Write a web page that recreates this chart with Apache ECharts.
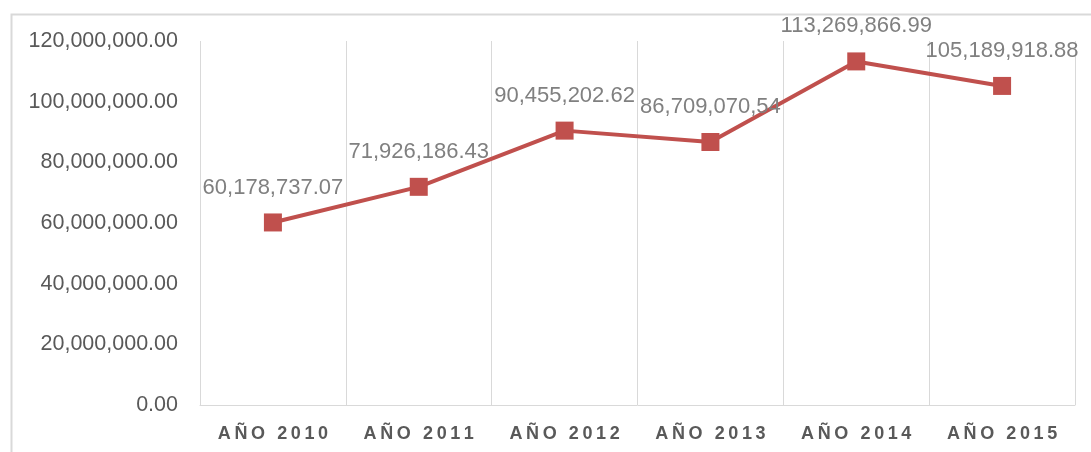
<!DOCTYPE html>
<html>
<head>
<meta charset="utf-8">
<script src="https://cdn.jsdelivr.net/npm/echarts@6/dist/echarts.min.js"></script>
<style>
html, body { margin: 0; padding: 0; background: #fff; }
#chart { width: 1091px; height: 452px; }
</style>
</head>
<body>
<div id="chart"></div>
<script>
// datos
var years = ['AÑO 2010', 'AÑO 2011', 'AÑO 2012', 'AÑO 2013', 'AÑO 2014', 'AÑO 2015'];
var amounts = [60178737.07, 71926186.43, 90455202.62, 86709070.54, 113269866.99, 105189918.88];
var amountLabels = ['60,178,737.07', '71,926,186.43', '90,455,202.62', '86,709,070,54', '113,269,866.99', '105,189,918.88'];

function spaced(s) {
	// simula el espaciado entre letras
	return s.split('').join('\u2009');
}

function money(v) {
	return v.toLocaleString('en-US', {minimumFractionDigits: 2, maximumFractionDigits: 2});
}

var myChart = echarts.init(document.getElementById('chart'));

var option = {
	animation: false,
	textStyle: { fontFamily: 'Liberation Sans' },
	graphic: [{
		type: 'rect',
		left: 9, top: 12,
		shape: { width: 1100, height: 460 },
		style: { fill: 'none', stroke: '#d9d9d9', lineWidth: 2 },
		silent: true
	}],
	grid: { left: 200, right: 16, top: 41, bottom: 47 },
	xAxis: {
		type: 'category',
		data: years,
		boundaryGap: true,
		axisLine: { lineStyle: { color: '#d9d9d9', width: 1 } },
		axisTick: { show: false },
		splitLine: { show: true, interval: 0, lineStyle: { color: '#d9d9d9', width: 1 } },
		axisLabel: {
			interval: 0,
			margin: 20,
			color: '#595959',
			fontSize: 18,
			fontWeight: 'bold',
			formatter: spaced
		}
	},
	yAxis: {
		type: 'value',
		min: 0,
		max: 120000000,
		interval: 20000000,
		axisLine: { show: false },
		axisTick: { show: false },
		splitLine: { show: false },
		axisLabel: {
			margin: 22,
			color: '#595959',
			fontSize: 21.5,
			formatter: money
		}
	},
	series: [{
		name: 'Monto',
		type: 'line',
		data: amounts,
		symbol: 'rect',
		symbolSize: 18,
		itemStyle: { color: '#C0504D' },
		lineStyle: { color: '#C0504D', width: 4 },
		label: {
			show: true,
			position: 'top',
			distance: 15,
			color: '#808080',
			fontSize: 22,
			formatter: function(p) { return amountLabels[p.dataIndex]; }
		}
	}]
};

myChart.setOption(option);
</script>
</body>
</html>
